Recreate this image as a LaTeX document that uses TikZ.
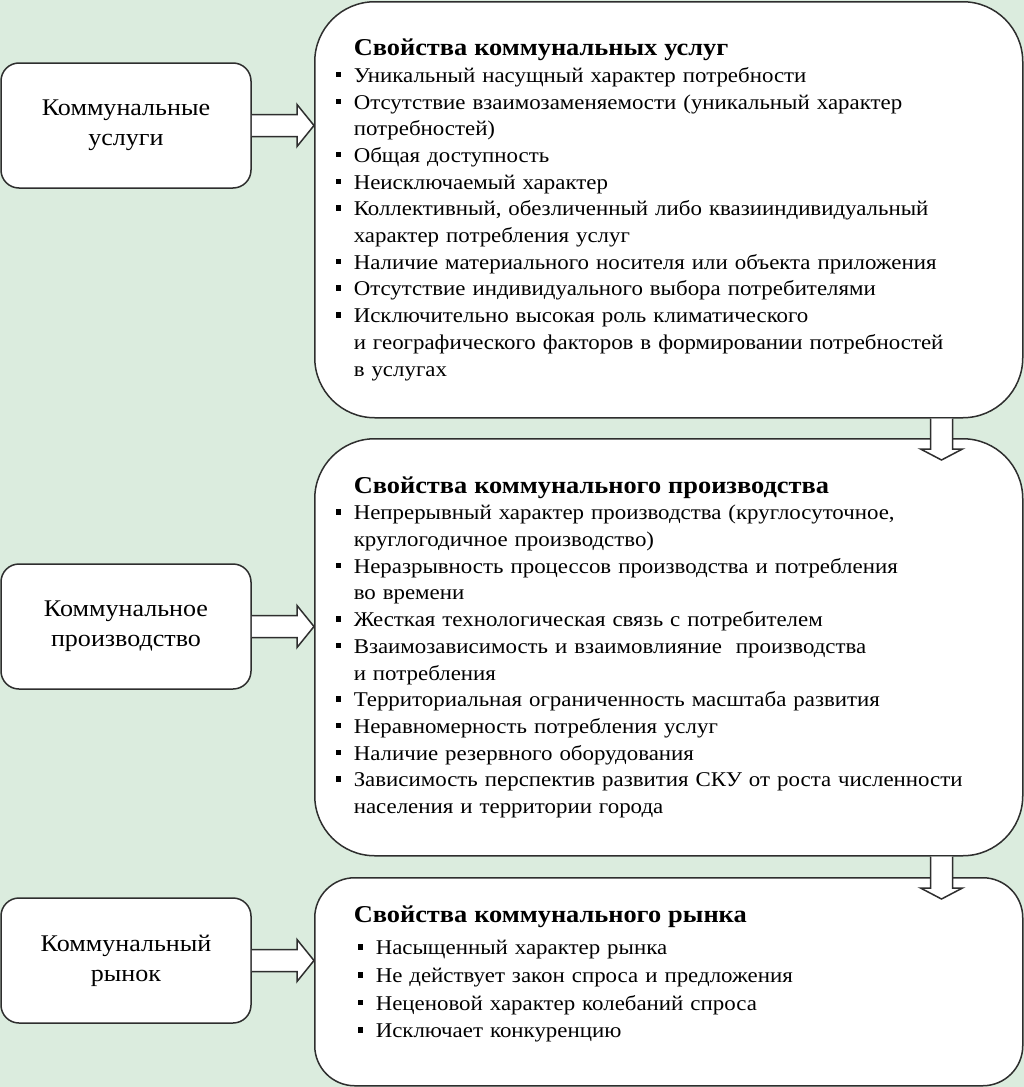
\documentclass[tikz,border=0pt]{standalone}
\usepackage{fontspec}
\setmainfont{Liberation Serif}[FakeStretch=1.09]
\usetikzlibrary{calc}

\definecolor{bgmint}{HTML}{DBECDE}
\definecolor{edge}{HTML}{2E2E2E}

\newcommand{\bul}{\makebox[18pt][l]{\rule[5pt]{5.5pt}{5.5pt}}}
\newcommand{\cont}{\hspace*{18pt}}
\newcommand{\ttl}[1]{{\fontsize{24.2}{26.7}\selectfont\bfseries #1}}

\begin{document}
\begin{tikzpicture}[
x=1pt,y=-1pt,
leftbox/.style={
rectangle,
rounded corners=18pt,
minimum width=250pt,
minimum height=125pt,
line width=1.5pt,
draw=edge,
fill=white,
align=center,
font=\fontsize{23.9}{30}\selectfont
},
propbox/.style={
rectangle,
rounded corners=60pt,
minimum width=708pt,
anchor=north west,
line width=1.5pt,
draw=edge,
fill=white,
align=left,
text width=666pt,
inner xsep=21pt,
font=\fontsize{21}{26.7}\selectfont
},
blockarr/.style={
line width=1.5pt,
draw=edge,
fill=white,
line join=miter
}]

\useasboundingbox (0,0) rectangle (1024,1087);
\fill[bgmint] (0,0) rectangle (1024,1087);

\node[leftbox] (srv) at (126,125.5) {Коммунальные\\услуги};
\node[leftbox] (prod) at (126,626.5) {Коммунальное\\производство};
\node[leftbox] (rynok) at (126,960.5) {Коммунальный\\рынок};

\node[propbox,minimum height=416pt] (srvprop) at (314,1) {%
\cont\ttl{Свойства коммунальных услуг}\\
\bul Уникальный насущный характер потребности\\
\bul Отсутствие взаимозаменяемости (уникальный характер\\
\cont потребностей)\\
\bul Общая доступность\\
\bul Неисключаемый характер\\
\bul Коллективный, обезличенный либо квазииндивидуальный\\
\cont характер потребления услуг\\
\bul Наличие материального носителя или объекта приложения\\
\bul Отсутствие индивидуального выбора потребителями\\
\bul Исключительно высокая роль климатического\\
\cont и географического факторов в формировании потребностей\\
\cont в услугах};
\node[propbox,minimum height=417pt] (prodprop) at (314,438) {%
\cont\ttl{Свойства коммунального производства}\\
\bul Непрерывный характер производства (круглосуточное,\\
\cont круглогодичное производство)\\
\bul Неразрывность процессов производства и потребления\\
\cont во времени\\
\bul Жесткая технологическая связь с потребителем\\
\bul Взаимозависимость и взаимовлияние \ производства\\
\cont и потребления\\
\bul Территориальная ограниченность масштаба развития\\
\bul Неравномерность потребления услуг\\
\bul Наличие резервного оборудования\\
\bul Зависимость перспектив развития СКУ от роста численности\\
\cont населения и территории города};
\node[propbox,rounded corners=40pt,minimum height=208pt,
font=\fontsize{21}{27.6}\selectfont] (rynokprop) at (314,877) {%
\cont\ttl{Свойства коммунального рынка}\\[5pt]
\hspace*{22pt}\bul Насыщенный характер рынка\\
\hspace*{22pt}\bul Не действует закон спроса и предложения\\
\hspace*{22pt}\bul Неценовой характер колебаний спроса\\
\hspace*{22pt}\bul Исключает конкуренцию\\[-7.6pt]\mbox{}};

% block arrows to the right
\draw[blockarr] ($(srv.east)+(0,-11)$) -- ($(srvprop.west|-srv.east)+(-17,-11)$) -- ++(0,-10)
  -- (srvprop.west|-srv.east) -- ++(-17,21) -- ++(0,-10) -- ($(srv.east)+(0,11)$);
\draw[blockarr] ($(prod.east)+(0,-11)$) -- ($(prodprop.west|-prod.east)+(-17,-11)$) -- ++(0,-10)
  -- (prodprop.west|-prod.east) -- ++(-17,21) -- ++(0,-10) -- ($(prod.east)+(0,11)$);
\draw[blockarr] ($(rynok.east)+(0,-11)$) -- ($(rynokprop.west|-rynok.east)+(-17,-11)$) -- ++(0,-10)
  -- (rynokprop.west|-rynok.east) -- ++(-17,21) -- ++(0,-10) -- ($(rynok.east)+(0,11)$);

% block arrows down
\draw[blockarr] ($(srvprop.south east)+(-93,0)$) -- ($(prodprop.north east)+(-93,11)$) -- ++(-10,0)
  -- ($(prodprop.north east)+(-82,22)$) -- ++(21,-11) -- ++(-10,0) -- ($(srvprop.south east)+(-71,0)$);
\draw[blockarr] ($(prodprop.south east)+(-93,0)$) -- ($(rynokprop.north east)+(-93,11)$) -- ++(-10,0)
  -- ($(rynokprop.north east)+(-82,22)$) -- ++(21,-11) -- ++(-10,0) -- ($(prodprop.south east)+(-71,0)$);

\end{tikzpicture}
\end{document}
